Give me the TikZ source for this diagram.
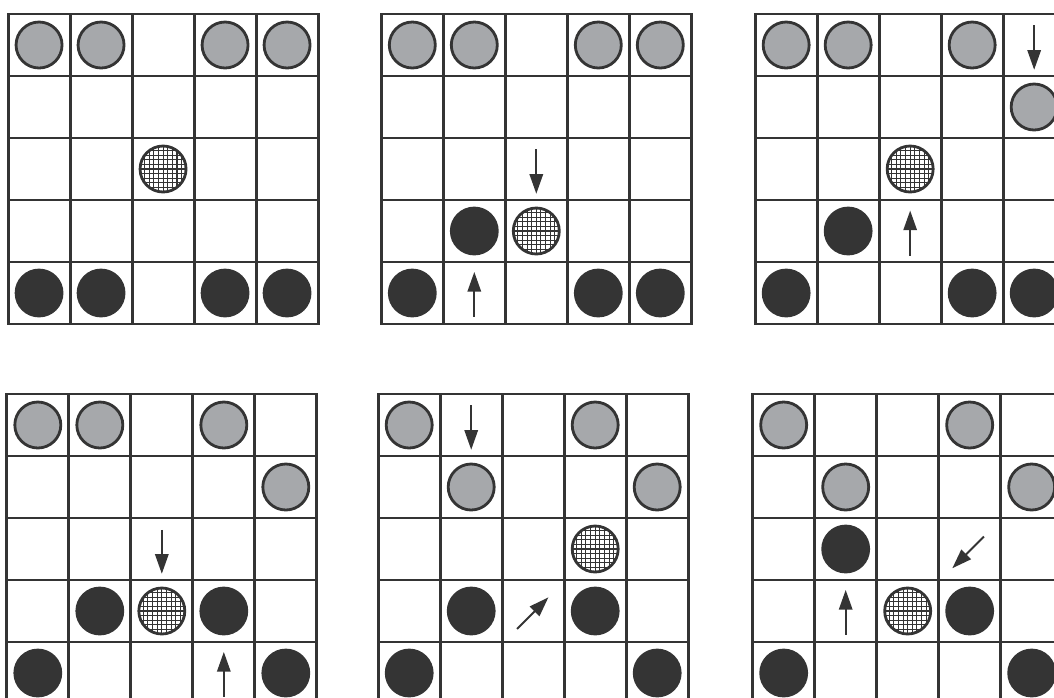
\documentclass[tikz,border=0pt]{standalone}
\usetikzlibrary{arrows.meta}

\definecolor{ink}{RGB}{52,52,52}
\definecolor{stone}{RGB}{166,168,171}

\begin{document}
\begin{tikzpicture}[
		x=1.55cm, y=-1.55cm,
		>={Triangle[length=14pt, width=9.5pt]},
		grid_line/.style={draw=ink, line width=2.1pt, line cap=rect},
		gray_piece/.style={
			circle, draw=ink, fill=stone, line width=2pt, minimum size=1.15cm, inner sep=0pt
		},
		black_piece/.style={circle, fill=ink, minimum size=1.22cm, inner sep=0pt},
		hatch_piece/.style={
			circle, draw=ink, fill=white, line width=2pt, minimum size=1.15cm, inner sep=0pt,
			path picture={
				\foreach \k in {-8,...,8} {
					\draw[ink, line width=0.75pt] ([xshift=\k*3.3pt]path picture bounding box.north) -- ([xshift=\k*3.3pt]path picture bounding box.south);
					\draw[ink, line width=0.75pt] ([yshift=\k*3.3pt]path picture bounding box.west) -- ([yshift=\k*3.3pt]path picture bounding box.east);
				}
			}
		},
		move_arrow/.style={->, draw=ink, line width=1.4pt}
		]
		
		\useasboundingbox (0,0) rectangle (17,11.242);
		
		% --- TOP ROW ---
		% 1. Start position
		\begin{scope}[shift={(0.13,0.226)}]
			\foreach \i in {0,...,5} {\draw[grid_line] (\i,0) -- (\i,5); \draw[grid_line] (0,\i) -- (5,\i);}
			\foreach \c in {0,1,3,4} \node[gray_piece] (b1g\c) at (\c+.5,.5) {};
			\foreach \c in {0,1,3,4} \node[black_piece] (b1k\c) at (\c+.5,4.5) {};
			\node[hatch_piece] (b1h) at (2.5,2.5) {};
		\end{scope}
		
		% 2. First moves
		\begin{scope}[shift={(6.15,0.226)}]
			\foreach \i in {0,...,5} {\draw[grid_line] (\i,0) -- (\i,5); \draw[grid_line] (0,\i) -- (5,\i);}
			\foreach \c in {0,1,3,4} \node[gray_piece] (b2g\c) at (\c+.5,.5) {};
			\foreach \c in {0,3,4} \node[black_piece] (b2k\c) at (\c+.5,4.5) {};
			\node[black_piece] (b2k1) at (1.5,3.5) {};
			\node[hatch_piece] (b2h) at (2.5,3.5) {};
			\coordinate (b2a_from) at (2.5,2.18);
			\coordinate (b2a_to) at (2.5,2.9);
			\coordinate (b2b_from) at (1.5,4.88);
			\coordinate (b2b_to) at (1.5,4.16);
			\draw[move_arrow] (b2a_from) -- (b2a_to);
			\draw[move_arrow] (b2b_from) -- (b2b_to);
		\end{scope}
		
		% 3. Second moves
		\begin{scope}[shift={(12.18,0.226)}]
			\foreach \i in {0,...,5} {\draw[grid_line] (\i,0) -- (\i,5); \draw[grid_line] (0,\i) -- (5,\i);}
			\foreach \c in {0,1,3} \node[gray_piece] (b3g\c) at (\c+.5,.5) {};
			\node[gray_piece] (b3g4) at (4.5,1.5) {};
			\foreach \c in {0,3,4} \node[black_piece] (b3k\c) at (\c+.5,4.5) {};
			\node[black_piece] (b3k1) at (1.5,3.5) {};
			\node[hatch_piece] (b3h) at (2.5,2.5) {};
			\coordinate (b3a_from) at (4.5,0.18);
			\coordinate (b3a_to) at (4.5,0.9);
			\coordinate (b3b_from) at (2.5,3.9);
			\coordinate (b3b_to) at (2.5,3.17);
			\draw[move_arrow] (b3a_from) -- (b3a_to);
			\draw[move_arrow] (b3b_from) -- (b3b_to);
		\end{scope}
		
		
		% --- BOTTOM ROW ---
		% 4. Ball pinned between two black pieces
		\begin{scope}[shift={(0.11,6.355)}]
			\foreach \i in {0,...,5} {\draw[grid_line] (\i,0) -- (\i,5); \draw[grid_line] (0,\i) -- (5,\i);}
			\foreach \c in {0,1,3} \node[gray_piece] (b4g\c) at (\c+.5,.5) {};
			\node[gray_piece] (b4g4) at (4.5,1.5) {};
			\foreach \c in {1,3} \node[black_piece] (b4k\c) at (\c+.5,3.5) {};
			\foreach \c in {0,4} \node[black_piece] (b4kk\c) at (\c+.5,4.5) {};
			\node[hatch_piece] (b4h) at (2.5,3.5) {};
			\coordinate (b4a_from) at (2.5,2.19);
			\coordinate (b4a_to) at (2.5,2.9);
			\coordinate (b4b_from) at (3.5,4.88);
			\coordinate (b4b_to) at (3.5,4.16);
			\draw[move_arrow] (b4a_from) -- (b4a_to);
			\draw[move_arrow] (b4b_from) -- (b4b_to);
		\end{scope}
		
		% 5. Diagonal push
		\begin{scope}[shift={(6.1,6.355)}]
			\foreach \i in {0,...,5} {\draw[grid_line] (\i,0) -- (\i,5); \draw[grid_line] (0,\i) -- (5,\i);}
			\foreach \c in {0,3} \node[gray_piece] (b5g\c) at (\c+.5,.5) {};
			\foreach \c in {1,4} \node[gray_piece] (b5gg\c) at (\c+.5,1.5) {};
			\foreach \c in {1,3} \node[black_piece] (b5k\c) at (\c+.5,3.5) {};
			\foreach \c in {0,4} \node[black_piece] (b5kk\c) at (\c+.5,4.5) {};
			\node[hatch_piece] (b5h) at (3.5,2.5) {};
			\coordinate (b5a_from) at (1.5,0.18);
			\coordinate (b5a_to) at (1.5,0.9);
			\coordinate (b5b_from) at (2.24,3.79);
			\coordinate (b5b_to) at (2.745,3.28);
			\draw[move_arrow] (b5a_from) -- (b5a_to);
			\draw[move_arrow] (b5b_from) -- (b5b_to);
		\end{scope}
		
		% 6. Diagonal return
		\begin{scope}[shift={(12.14,6.355)}]
			\foreach \i in {0,...,5} {\draw[grid_line] (\i,0) -- (\i,5); \draw[grid_line] (0,\i) -- (5,\i);}
			\foreach \c in {0,3} \node[gray_piece] (b6g\c) at (\c+.5,.5) {};
			\foreach \c in {1,4} \node[gray_piece] (b6gg\c) at (\c+.5,1.5) {};
			\node[black_piece] (b6k1) at (1.5,2.5) {};
			\node[black_piece] (b6k3) at (3.5,3.5) {};
			\foreach \c in {0,4} \node[black_piece] (b6kk\c) at (\c+.5,4.5) {};
			\node[hatch_piece] (b6h) at (2.5,3.5) {};
			\coordinate (b6a_from) at (3.73,2.3);
			\coordinate (b6a_to) at (3.22,2.81);
			\coordinate (b6b_from) at (1.5,3.88);
			\coordinate (b6b_to) at (1.5,3.16);
			\draw[move_arrow] (b6a_from) -- (b6a_to);
			\draw[move_arrow] (b6b_from) -- (b6b_to);
		\end{scope}
		
	\end{tikzpicture}
\end{document}
